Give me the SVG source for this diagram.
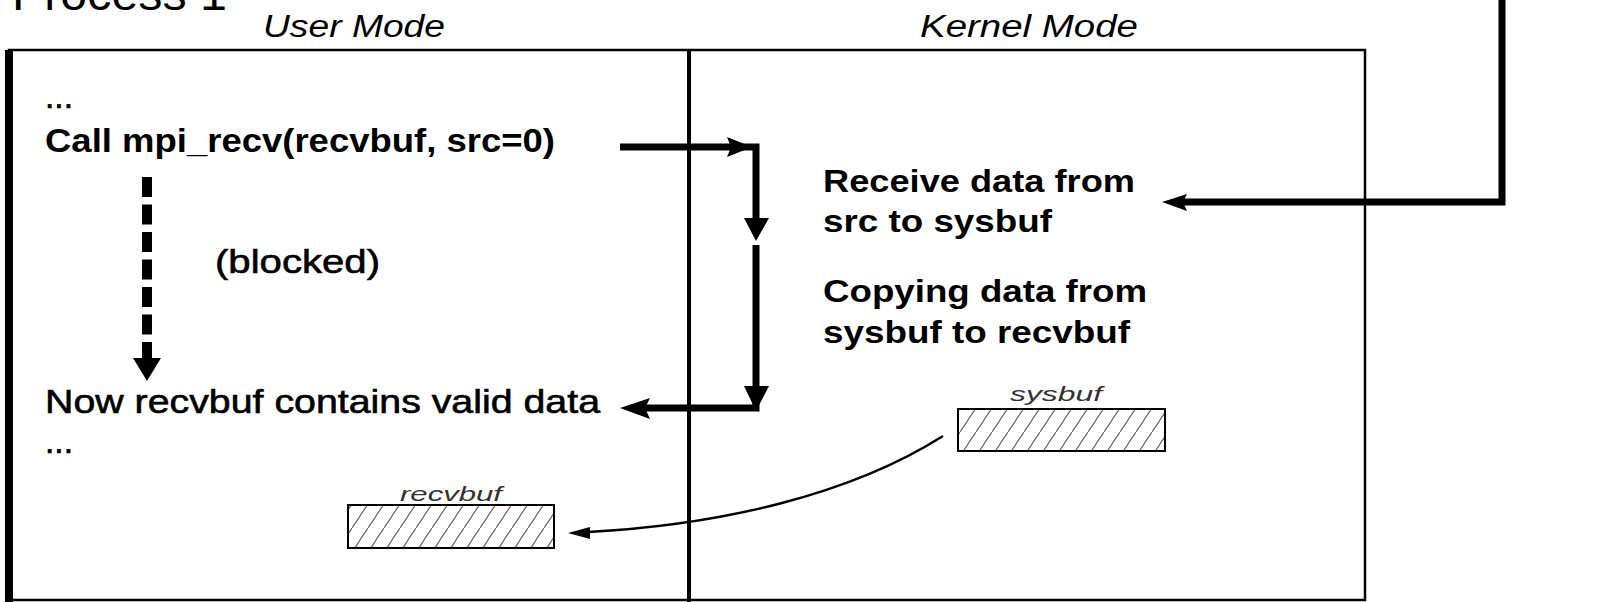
<svg xmlns="http://www.w3.org/2000/svg" width="1607" height="602" viewBox="0 0 1607 602">
<style>
text{font-family:"Liberation Sans",Arial,sans-serif;fill:#000}
.title{font-size:46px}
.mode{font-size:31px;font-style:italic}
.body{font-size:33px;font-weight:bold}
.norm{font-size:33px;stroke:#000;stroke-width:0.6}
.kern{font-size:31px;font-weight:bold}
.buf{font-size:21px;font-style:italic;fill:#333}
.thick{fill:none;stroke:#000;stroke-width:7}
.thin{fill:none;stroke:#000;stroke-width:2.5}
.head{fill:#000}
.bufrect{fill:url(#hatch);stroke:#000;stroke-width:2}
</style>
<defs>
<pattern id="hatch" patternUnits="userSpaceOnUse" width="16" height="24">
<rect width="16" height="24" fill="#fff"/>
<line x1="0" y1="24" x2="16" y2="0" stroke="#555" stroke-width="1.1"/>
</pattern>
</defs>
<rect width="1607" height="602" fill="#fff"/>

<g id="title">
<text class="title" x="12" y="10" textLength="215" lengthAdjust="spacingAndGlyphs">Process 1</text>
</g>

<g id="frame">
<rect x="9" y="50" width="1356" height="550" fill="none" stroke="#000" stroke-width="2.5"/>
<line x1="9" y1="50" x2="9" y2="602" stroke="#000" stroke-width="8"/>
<line x1="689" y1="50" x2="689" y2="602" stroke="#000" stroke-width="4"/>
</g>

<g id="user-mode">
<text class="mode" x="263" y="37" textLength="182" lengthAdjust="spacingAndGlyphs">User Mode</text>
<text class="norm" x="45" y="108" textLength="28" lengthAdjust="spacingAndGlyphs">...</text>
<text class="body" x="45" y="152" textLength="510" lengthAdjust="spacingAndGlyphs">Call mpi_recv(recvbuf, src=0)</text>
<text class="norm" x="215" y="273" textLength="165" lengthAdjust="spacingAndGlyphs">(blocked)</text>
<text class="norm" x="45" y="413" textLength="555" lengthAdjust="spacingAndGlyphs">Now recvbuf contains valid data</text>
<text class="norm" x="45" y="453" textLength="28" lengthAdjust="spacingAndGlyphs">...</text>
</g>

<g id="kernel-mode">
<text class="mode" x="920" y="37" textLength="218" lengthAdjust="spacingAndGlyphs">Kernel Mode</text>
<text class="kern" x="823" y="192" textLength="312" lengthAdjust="spacingAndGlyphs">Receive data from</text>
<text class="kern" x="823" y="232" textLength="229" lengthAdjust="spacingAndGlyphs">src to sysbuf</text>
<text class="kern" x="823" y="302" textLength="324" lengthAdjust="spacingAndGlyphs">Copying data from</text>
<text class="kern" x="823" y="343" textLength="307" lengthAdjust="spacingAndGlyphs">sysbuf to recvbuf</text>
</g>

<g id="recvbuf">
<text class="buf" x="400" y="501" textLength="102" lengthAdjust="spacingAndGlyphs">recvbuf</text>
<rect class="bufrect" x="348" y="505" width="206" height="43"/>
</g>

<g id="sysbuf">
<text class="buf" x="1010" y="401" textLength="92" lengthAdjust="spacingAndGlyphs">sysbuf</text>
<rect class="bufrect" x="958" y="409" width="207" height="42"/>
</g>

<g id="connectors">
<line x1="147" y1="177" x2="147" y2="360" stroke="#000" stroke-width="10" stroke-dasharray="20 7.5"/>
<polygon class="head" points="133,358 161,358 147,381"/>

<path class="thick" d="M620,147 H756 V220"/>
<polygon class="head" points="727,137 752,147 727,157 731,147"/>
<polygon class="head" points="744,218 769,218 756,241"/>
<path class="thick" d="M756,245 V408 H645"/>
<polygon class="head" points="744,386 769,386 756,411"/>
<polygon class="head" points="650,398 620,408 650,419 645,408"/>

<path class="thick" d="M1502,0 V202 H1183"/>
<polygon class="head" points="1187,194 1162,202 1187,211 1183,202"/>

<path class="thin" d="M943,436 C850,495 720,525 588,532"/>
<polygon class="head" points="590,527 568,533 590,539"/>
</g>
</svg>
